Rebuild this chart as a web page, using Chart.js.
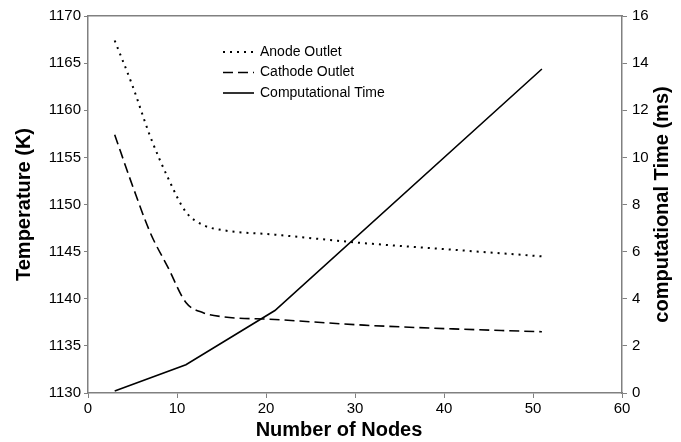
<!DOCTYPE html>
<html>
<head>
<meta charset="utf-8">
<script src="https://cdn.jsdelivr.net/npm/chart.js@4.4.1/dist/chart.umd.min.js"></script>
<style>
  body { margin: 0; background: #fff; }
  #wrap { width: 681px; height: 442px; }
</style>
</head>
<body>
<div id="wrap"><canvas id="nodes-chart" width="681" height="442"></canvas></div>
<script>
// values
var nodes = [3, 5, 7, 9, 11, 13, 15, 21, 31, 41, 51]
var anodeOutlet = [1167.4, 1162.6, 1157.2, 1152.8, 1149.2, 1147.8, 1147.3, 1146.8, 1145.9, 1145.2, 1144.5]
var cathodeOutlet = [1157.4, 1152.0, 1147.0, 1143.3, 1139.6, 1138.5, 1138.1, 1137.8, 1137.2, 1136.8, 1136.5]
var timeNodes = [3, 11, 21, 51]
var compTime = [0.08, 1.2, 3.5, 13.75]

var xTicks = [0, 10, 20, 30, 40, 50, 60]
var tempTicks = [1130, 1135, 1140, 1145, 1150, 1155, 1160, 1165, 1170]
var timeTicks = [0, 2, 4, 6, 8, 10, 12, 14, 16]

function pairs(xs, ys) {
    return xs.map(function(x, i) { return {x: x, y: ys[i]} })
}

var axisGrey = '#808080'
var fontFamily = "'Liberation Sans', Arial, sans-serif"
Chart.defaults.font.family = fontFamily
Chart.defaults.color = '#000'

// legend drawn inside the plot, like the original
var innerLegend = {
    id: 'innerLegend',
    afterDraw: function(chart) {
        var ctx = chart.ctx
        ctx.save()
        ctx.font = '14px ' + fontFamily
        ctx.textBaseline = 'middle'
        ctx.fillStyle = '#000'
        chart.data.datasets.forEach(function(ds, i) {
            var y = 52 + i * 20.5
            ctx.beginPath()
            ctx.strokeStyle = '#000'
            ctx.lineWidth = ds.borderWidth
            ctx.setLineDash(ds.borderDash || [])
            ctx.moveTo(223, y)
            ctx.lineTo(254, y)
            ctx.stroke()
            ctx.setLineDash([])
            ctx.fillText(ds.label, 260, y)
        })
        ctx.restore()
    }
}

// axis titles: right one reads bottom-to-top, bottom one is centred on the figure
var axisTitles = {
    id: 'axisTitles',
    afterDraw: function(chart) {
        var ctx = chart.ctx
        var area = chart.chartArea
        var midY = (area.top + area.bottom) / 2
        ctx.save()
        ctx.font = 'bold 20px ' + fontFamily
        ctx.textAlign = 'center'
        ctx.textBaseline = 'middle'
        ctx.fillStyle = '#000'
        ctx.fillText('Number of Nodes', 339, 430)
        ctx.restore()
        ;[[24, 'Temperature (K)'], [662, 'computational Time (ms)']].forEach(function(t) {
            ctx.save()
            ctx.font = 'bold 20px ' + fontFamily
            ctx.textAlign = 'center'
            ctx.textBaseline = 'middle'
            ctx.fillStyle = '#000'
            ctx.translate(t[0], midY)
            ctx.rotate(-Math.PI / 2)
            ctx.fillText(t[1], 0, 0)
            ctx.restore()
        })
    }
}

function fixedTicks(values) {
    return function(scale) {
        scale.ticks = values.map(function(v) { return {value: v} })
    }
}
function plain(v) { return String(v) }

var chartConfig = {
    type: 'scatter',
    data: {
        datasets: [{
            label: 'Anode Outlet',
            data: pairs(nodes, anodeOutlet),
            borderColor: '#000',
            borderWidth: 2,
            borderDash: [2, 5],
            cubicInterpolationMode: 'monotone',
            yAxisID: 'y'
        }, {
            label: 'Cathode Outlet',
            data: pairs(nodes, cathodeOutlet),
            borderColor: '#000',
            borderWidth: 1.6,
            borderDash: [10, 5],
            cubicInterpolationMode: 'monotone',
            yAxisID: 'y'
        }, {
            label: 'Computational Time',
            data: pairs(timeNodes, compTime),
            borderColor: '#000',
            borderWidth: 1.6,
            yAxisID: 'y1'
        }]
    },
    options: {
        responsive: false,
        animation: false,
        showLine: true,
        elements: { point: { radius: 0, hoverRadius: 0 } },
        layout: { padding: { top: 16, left: 0, right: 0, bottom: 0 } },
        plugins: { legend: { display: false }, tooltip: { enabled: false } },
        scales: {
            x: {
                type: 'linear',
                position: 'bottom',
                min: 0, max: 60,
                afterBuildTicks: fixedTicks(xTicks),
                afterFit: function(s) { s.height = 49 },
                ticks: { font: { size: 15 }, padding: 2, maxRotation: 0, callback: plain },
                grid: { drawOnChartArea: false, tickLength: 5, color: axisGrey },
                border: { color: axisGrey, width: 1.5 }
            },
            xTop: {
                type: 'linear',
                position: 'top',
                min: 0, max: 60,
                afterFit: function(s) { s.height = 0 },
                ticks: { display: false },
                grid: { display: false },
                border: { color: axisGrey, width: 1.5 }
            },
            y: {
                type: 'linear',
                position: 'left',
                min: 1130, max: 1170,
                afterBuildTicks: fixedTicks(tempTicks),
                afterFit: function(s) { s.width = 88 },
                ticks: { font: { size: 15 }, padding: 3, callback: plain },
                grid: { drawOnChartArea: false, tickLength: 4, color: axisGrey },
                border: { color: axisGrey, width: 1.5 }
            },
            y1: {
                type: 'linear',
                position: 'right',
                min: 0, max: 16,
                afterBuildTicks: fixedTicks(timeTicks),
                afterFit: function(s) { s.width = 59 },
                ticks: { font: { size: 15 }, padding: 5, callback: plain },
                grid: { drawOnChartArea: false, tickLength: 5, color: axisGrey },
                border: { color: axisGrey, width: 1.5 }
            }
        }
    },
    plugins: [innerLegend, axisTitles]
}

var ctx = document.getElementById('nodes-chart').getContext('2d')
var nodesChart = new Chart(ctx, chartConfig)
</script>
</body>
</html>
